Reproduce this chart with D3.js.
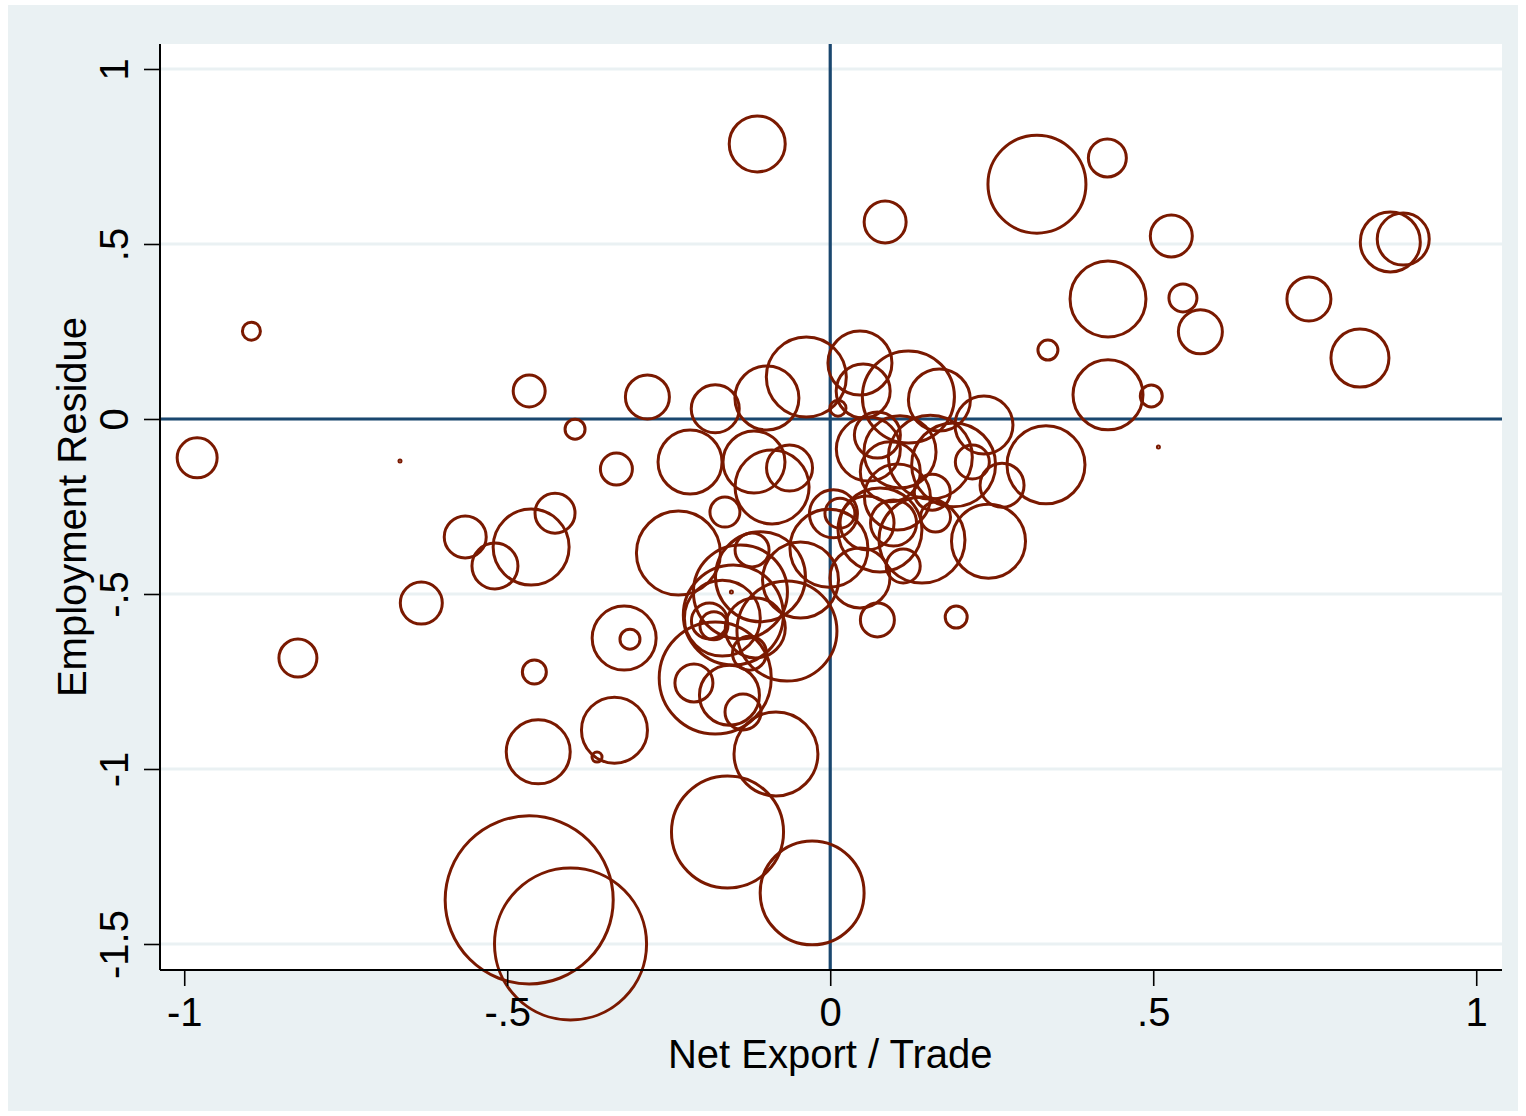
<!DOCTYPE html>
<html>
<head>
<meta charset="utf-8">
<script src="https://cdn.jsdelivr.net/npm/d3@7"></script>
<style>
  html, body { margin: 0; padding: 0; background: #ffffff; }
  svg { display: block; font-family: "Liberation Sans", Arial, sans-serif; }
</style>
</head>
<body>
<div id="chart"></div>
<script>
// Net export share of trade (x), employment residue (y), bubble weight (area)
const netExport = [
  -0.980, -0.896, -0.666, -0.824, -0.633, -0.565, -0.519, -0.463, -0.426, -0.466,
  -0.395, -0.458, -0.452, -0.361, -0.334, -0.331, -0.319, -0.310, -0.283, -0.466,
  -0.402, -0.113, -0.159, -0.028, -0.084,
  -0.178, -0.098, -0.037, 0.012, -0.217, -0.118, -0.063, -0.090, -0.163, -0.235,
  -0.121, -0.108, -0.046, -0.002, 0.005, 0.015, -0.153, -0.150, -0.139, -0.167,
  -0.187, -0.180, -0.125, -0.116, -0.067, -0.178, -0.211, -0.156, -0.135,
  0.046, 0.051, 0.121, 0.169, 0.238, 0.059, 0.073, 0.155, 0.108, 0.191,
  0.220, 0.158, 0.163, 0.093, 0.098, 0.077, 0.142, 0.245, 0.266, 0.334,
  0.046, 0.113, 0.073, 0.195, 0.057, 0.104,
  0.085, 0.320, 0.429, 0.528, 0.867, 0.887, 0.430, 0.546, 0.573, 0.741,
  0.820, 0.337, 0.430, 0.497, 0.508
];
const empResidue = [
  -0.111, 0.251, -0.120, -0.683, -0.526, -0.337, -0.420, -0.366, -0.269, 0.080,
  -0.029, -0.723, -0.951, -0.966, -0.889, -0.143, -0.626, -0.629, 0.063, -1.374,
  -1.500, 0.786, -1.180, -1.354, -0.957,
  0.029, 0.060, 0.120, 0.031, -0.123, -0.123, -0.140, -0.194, -0.266, -0.383,
  -0.374, -0.451, -0.460, -0.369, -0.271, -0.269, -0.494, -0.560, -0.494, -0.569,
  -0.577, -0.591, -0.669, -0.597, -0.606, -0.740, -0.754, -0.789, -0.837,
  0.160, 0.080, 0.063, 0.054, -0.017, -0.086, -0.046, -0.109, -0.094, -0.131,
  -0.123, -0.209, -0.280, -0.151, -0.297, -0.317, -0.346, -0.349, -0.189, -0.131,
  -0.454, -0.420, -0.574, -0.566, -0.297, -0.223,
  0.563, 0.671, 0.746, 0.523, 0.506, 0.514, 0.343, 0.346, 0.249, 0.343,
  0.174, 0.197, 0.069, 0.066, -0.080
];
const weight = [
  4.00, 0.81, 0.01, 3.61, 4.41, 4.41, 5.29, 14.44, 4.00, 2.56,
  1.00, 1.44, 10.24, 0.25, 10.89, 2.56, 10.24, 1.00, 4.84, 70.6,
  57.8, 7.84, 31.4, 27.0, 17.6,
  5.76, 10.24, 16.0, 0.64, 10.24, 9.61, 5.29, 13.69, 2.25, 17.64,
  2.89, 20.25, 14.44, 15.2, 5.76, 2.25, 0.01, 25.0, 22.1, 14.4,
  3.24, 1.96, 2.89, 9.00, 25.0, 31.4, 3.61, 9.00, 3.24,
  10.24, 7.29, 21.2, 9.61, 8.41, 10.24, 5.29, 17.6, 13.0, 17.6,
  2.89, 3.24, 2.25, 9.00, 5.29, 17.6, 18.5, 13.7, 4.84, 15.2,
  9.00, 2.89, 2.89, 1.21, 7.29, 10.9,
  4.41, 24.0, 3.61, 4.41, 9.00, 6.76, 14.4, 1.96, 4.84, 4.84,
  8.41, 1.00, 12.25, 1.21, 0.01
];

const xTicks = [-1, -0.5, 0, 0.5, 1];
const xTickLabels = ["-1", "-.5", "0", ".5", "1"];
const yTicks = [1, 0.5, 0, -0.5, -1, -1.5];
const yTickLabels = ["1", ".5", "0", "-.5", "-1", "-1.5"];

const W = 1526, H = 1116;
const plot = { left: 160, right: 1502, top: 44, bottom: 970 };

const svg = d3.select("#chart").append("svg")
  .attr("width", W).attr("height", H);

// graph region background
svg.append("rect")
  .attr("x", 8).attr("y", 5).attr("width", 1510).attr("height", 1106)
  .attr("fill", "#eaf1f3");

// plot region
svg.append("rect")
  .attr("x", plot.left).attr("y", plot.top)
  .attr("width", plot.right - plot.left).attr("height", plot.bottom - plot.top)
  .attr("fill", "#ffffff");

const x = d3.scaleLinear().domain([-1.0375, 1.0399]).range([plot.left, plot.right]);
const y = d3.scaleLinear().domain([-1.5743, 1.0714]).range([plot.bottom, plot.top]);
const r = d3.scaleSqrt().domain([0, 100]).range([0, 100]);

// horizontal grid lines
svg.append("g").selectAll("line").data(yTicks).join("line")
  .attr("x1", plot.left).attr("x2", plot.right)
  .attr("y1", d => y(d)).attr("y2", d => y(d))
  .attr("stroke", "#eaf1f3").attr("stroke-width", 3);

// reference lines at zero
svg.append("line")
  .attr("x1", x(0)).attr("x2", x(0))
  .attr("y1", plot.top).attr("y2", plot.bottom)
  .attr("stroke", "#1a476f").attr("stroke-width", 3.2);
svg.append("line")
  .attr("x1", plot.left).attr("x2", plot.right)
  .attr("y1", y(0)).attr("y2", y(0))
  .attr("stroke", "#1a476f").attr("stroke-width", 3.2);

// bubbles
const points = netExport.map((v, i) => ({ x: v, y: empResidue[i], w: weight[i] }));
svg.append("g").selectAll("circle").data(points).join("circle")
  .attr("cx", d => x(d.x))
  .attr("cy", d => y(d.y))
  .attr("r", d => r(d.w))
  .attr("fill", "none")
  .attr("stroke", "#7a1900")
  .attr("stroke-width", 3);

// axes
const xAxis = d3.axisBottom(x).tickValues(xTicks)
  .tickFormat((d, i) => xTickLabels[i]).tickSize(16).tickPadding(12);
const gx = svg.append("g").attr("transform", `translate(0,${plot.bottom})`).call(xAxis);
gx.select(".domain").attr("d", `M${plot.left},0H${plot.right}`)
  .attr("stroke", "#000").attr("stroke-width", 2);
gx.selectAll(".tick line").attr("stroke", "#000").attr("stroke-width", 1.6);
gx.selectAll(".tick text").attr("font-size", 40).attr("fill", "#000")
  .attr("font-family", "'Liberation Sans', Arial, sans-serif");

const yAxis = d3.axisLeft(y).tickValues(yTicks)
  .tickFormat((d, i) => yTickLabels[i]).tickSize(16).tickPadding(14);
const gy = svg.append("g").attr("transform", `translate(${plot.left},0)`).call(yAxis);
gy.select(".domain").attr("d", `M0,${plot.top}V${plot.bottom}`)
  .attr("stroke", "#000").attr("stroke-width", 2);
gy.selectAll(".tick line").attr("stroke", "#000").attr("stroke-width", 1.6);
gy.selectAll(".tick text")
  .attr("font-size", 40).attr("fill", "#000")
  .attr("font-family", "'Liberation Sans', Arial, sans-serif")
  .attr("x", null).attr("dy", null)
  .attr("text-anchor", "middle")
  .attr("transform", "translate(-32,0) rotate(-90)");

// axis titles
svg.append("text")
  .attr("x", x(0)).attr("y", 1068)
  .attr("text-anchor", "middle")
  .attr("font-size", 40).attr("fill", "#000")
  .text("Net Export / Trade");

svg.append("text")
  .attr("transform", `translate(86,${(plot.top + plot.bottom) / 2}) rotate(-90)`)
  .attr("text-anchor", "middle")
  .attr("font-size", 40).attr("fill", "#000")
  .text("Employment Residue");
</script>
</body>
</html>
